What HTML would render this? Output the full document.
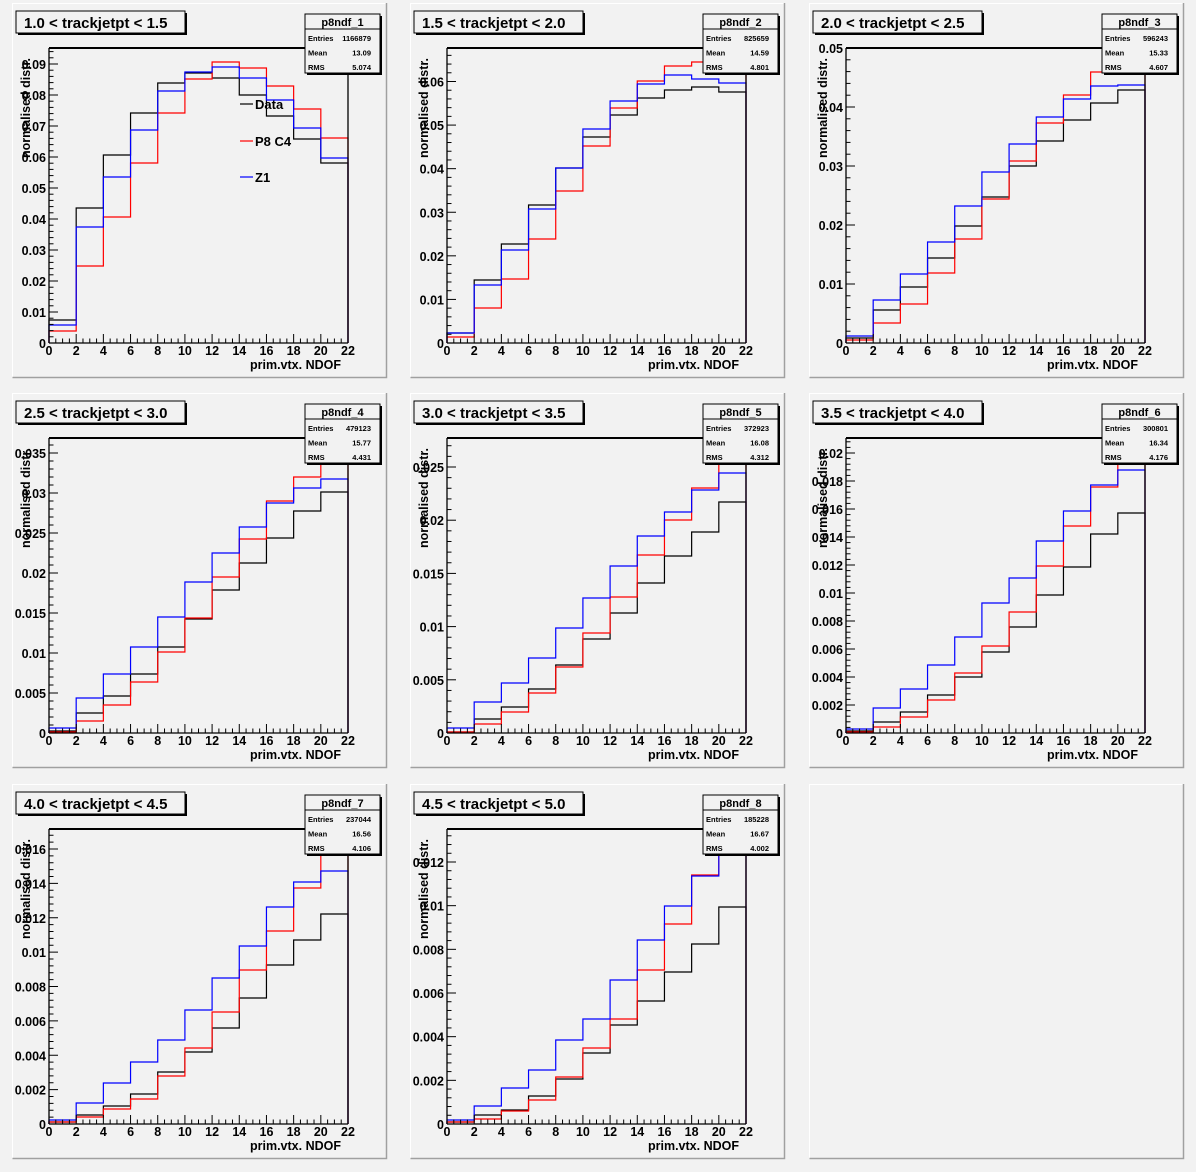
<!DOCTYPE html>
<html><head><meta charset="utf-8"><style>
html,body{margin:0;padding:0;background:#f2f2f2;}
svg{display:block;font-family:"Liberation Sans",Arial,sans-serif;}
</style></head><body>
<svg id="s" width="1196" height="1172" xmlns="http://www.w3.org/2000/svg"></svg>
<script>
const P=[
{t:"1.0 < trackjetpt < 1.5",n:"p8ndf_1",e:"1166879",m:"13.09",r:"5.074",top:[0.09,64],step:0.01,max:0.09,dec:2,
 k:[320,208,155,113,83,73,78,95,116,139,163],
 rd:[331,266,217,163,113,79,62,68,86,109,138],
 b:[325,227,177,130,91,72,67,78,100,128,158]},
{t:"1.5 < trackjetpt < 2.0",n:"p8ndf_2",e:"825659",m:"14.59",r:"4.801",top:[0.06,81.5],step:0.01,max:0.06,dec:2,
 k:[333,280,244,205,168,137,115,98,90,87,92],
 rd:[337,308,279,239,191,146,108,81,66,62,60],
 b:[333,285,250,209,168,129,101,84,75,79,83]},
{t:"2.0 < trackjetpt < 2.5",n:"p8ndf_3",e:"596243",m:"15.33",r:"4.607",top:[0.05,48],step:0.01,max:0.05,dec:2,
 k:[338,310,287,258,226,197,166,141,120,103,90],
 rd:[340,323,304,273,239,199,161,123,95,72,68],
 b:[336,300,274,242,206,172,144,117,99,86,85]},
{t:"2.5 < trackjetpt < 3.0",n:"p8ndf_4",e:"479123",m:"15.77",r:"4.431",top:[0.03,493],step:0.005,max:0.035,dec:3,
 k:[731,713,696,674,647,619,590,563,538,511,492],
 rd:[732,721,705,682,652,618,577,539,501,477,460],
 b:[728,698,674,647,617,582,553,527,503,488,479]},
{t:"3.0 < trackjetpt < 3.5",n:"p8ndf_5",e:"372923",m:"16.08",r:"4.312",top:[0.025,467],step:0.005,max:0.025,dec:3,
 k:[732,719,707,689,665,639,613,583,556,532,502],
 rd:[732,724,712,693,667,633,597,555,520,488,463],
 b:[728,702,683,658,628,598,566,536,512,490,473]},
{t:"3.5 < trackjetpt < 4.0",n:"p8ndf_6",e:"300801",m:"16.34",r:"4.176",top:[0.02,453],step:0.002,max:0.02,dec:3,
 k:[731,722,712,695,677,652,627,595,567,534,513],
 rd:[732,727,717,700,673,646,612,566,526,487,463],
 b:[729,708,689,665,637,603,578,541,511,485,470]},
{t:"4.0 < trackjetpt < 4.5",n:"p8ndf_7",e:"237044",m:"16.56",r:"4.106",top:[0.016,849],step:0.002,max:0.016,dec:3,
 k:[1122,1115,1106,1094,1072,1052,1028,998,965,940,914],
 rd:[1122,1117,1109,1099,1076,1048,1012,970,931,888,853],
 b:[1120,1103,1083,1062,1040,1010,978,946,907,882,871]},
{t:"4.5 < trackjetpt < 5.0",n:"p8ndf_8",e:"185228",m:"16.67",r:"4.002",top:[0.012,862],step:0.002,max:0.012,dec:3,
 k:[1122,1115,1110,1096,1079,1053,1025,1001,972,944,907],
 rd:[1122,1119,1111,1100,1077,1048,1019,970,924,875,852],
 b:[1120,1106,1088,1070,1040,1019,980,940,906,876,853]}
];
const PX=[12,410,809],PY=[3,393,784];
let h="";
function fmt(v,dec){if(Math.abs(v)<1e-9)return"0";let s=v.toFixed(dec);s=s.replace(/0+$/,"");return s;}
for(let i=0;i<9;i++){
 const px=PX[i%3],py=PY[Math.floor(i/3)];
 h+=`<rect x="${px}" y="${py}" width="374" height="374" fill="#f2f2f2" stroke="none"/>`;
 h+=`<path d="M${px+0.5},${py+374}V${py+0.5}H${px+374}" stroke="#ffffff" fill="none"/>`;
 h+=`<path d="M${px+0.5},${py+374.5}H${px+374.5}V${py}" stroke="#a0a0a0" fill="none" stroke-width="1.5"/>`;
 if(i>=8)continue;
 const p=P[i];
 const fx=px+37,fw=299,fy=py+45,fb=py+340;
 const X=v=>fx+v/22*fw;
 const y0=fb,ppu=(fb-p.top[1])/p.top[0];
 const hist=(a,c)=>{let d=`M${X(0)},${fb}`;for(let j=0;j<11;j++){d+=`V${a[j]}H${X(2*j+2)}`;}d+=`V${fb}`;
  return `<path d="${d}" fill="none" stroke="${c}" stroke-width="1.2"/>`;};
 h+=hist(p.k,"#000")+hist(p.rd,"#f00")+hist(p.b,"#00f");
 // frame
 h+=`<line x1="${fx}" y1="${fy}" x2="${fx+fw}" y2="${fy}" stroke="#000" stroke-width="2"/>`;
 h+=`<line x1="${fx+fw}" y1="${fy}" x2="${fx+fw}" y2="${fb}" stroke="#000" stroke-width="1.3"/>`;
 h+=`<line x1="${fx}" y1="${fy}" x2="${fx}" y2="${fb}" stroke="#000" stroke-width="1.3"/>`;
 h+=`<line x1="${fx}" y1="${fb}" x2="${fx+fw}" y2="${fb}" stroke="#000" stroke-width="1.3"/>`;
 for(let j=0;j<=44;j++){const x=X(j*0.5);const L=(j%4==0)?9:4.5;
  h+=`<line x1="${x}" y1="${fb}" x2="${x}" y2="${fb-L}" stroke="#000"/>`;}
 for(let j=0;j<=22;j+=2){h+=`<text x="${X(j)}" y="${fb+12}" font-size="12.5" font-weight="bold" text-anchor="middle">${j}</text>`;}
 h+=`<text x="${fx+292}" y="${fb+26}" font-size="12.5" font-weight="bold" text-anchor="end">prim.vtx. NDOF</text>`;
 const ms=p.step/5;
 for(let j=0;;j++){const v=j*ms;const y=y0-v*ppu;if(y<fy-0.5)break;const maj=(j%5==0);
  h+=`<line x1="${fx}" y1="${y}" x2="${fx+(maj?9:4.5)}" y2="${y}" stroke="#000"/>`;
  if(maj)h+=`<text x="${fx-3}" y="${y+5}" font-size="12.5" font-weight="bold" text-anchor="end">${fmt(v,p.dec)}</text>`;}
 h+=`<text transform="translate(${px+18},${py+105}) rotate(-90)" font-size="12.5" font-weight="bold" text-anchor="middle">normalised distr.</text>`;
 h+=`<rect x="${px+6}" y="${py+10}" width="169" height="22" fill="#000"/>`;
 h+=`<rect x="${px+4}" y="${py+8}" width="169" height="22" fill="#f2f2f2" stroke="#000" stroke-width="1"/>`;
 h+=`<text x="${px+12}" y="${py+25}" font-size="15" font-weight="bold">${p.t.replace(/</g,"&lt;")}</text>`;
 const sx=px+293,sy=py+11;
 h+=`<rect x="${sx+2}" y="${sy+2}" width="75" height="59" fill="#000"/>`;
 h+=`<rect x="${sx}" y="${sy}" width="75" height="59" fill="#f2f2f2" stroke="#000" stroke-width="1"/>`;
 h+=`<line x1="${sx}" y1="${sy+15}" x2="${sx+75}" y2="${sy+15}" stroke="#000"/>`;
 h+=`<text x="${sx+37.5}" y="${sy+12}" font-size="11" font-weight="bold" text-anchor="middle">${p.n}</text>`;
 const rows=[["Entries",p.e],["Mean",p.m],["RMS",p.r]];
 rows.forEach((r,j)=>{const yy=sy+27+j*14.5;
  h+=`<text x="${sx+3}" y="${yy}" font-size="7.5" font-weight="bold">${r[0]}</text><text x="${sx+66}" y="${yy}" font-size="7.5" font-weight="bold" text-anchor="end">${r[1]}</text>`;});
 if(i==0){
  const L=[["Data","#000",104],["P8 C4","#f00",141],["Z1","#00f",177]];
  L.forEach(l=>{h+=`<line x1="240" y1="${l[2]}" x2="253" y2="${l[2]}" stroke="${l[1]}" stroke-width="1.2"/><text x="255" y="${l[2]+5}" font-size="13" font-weight="bold">${l[0]}</text>`;});
 }
}
document.getElementById("s").innerHTML=h;
</script>
</body></html>
